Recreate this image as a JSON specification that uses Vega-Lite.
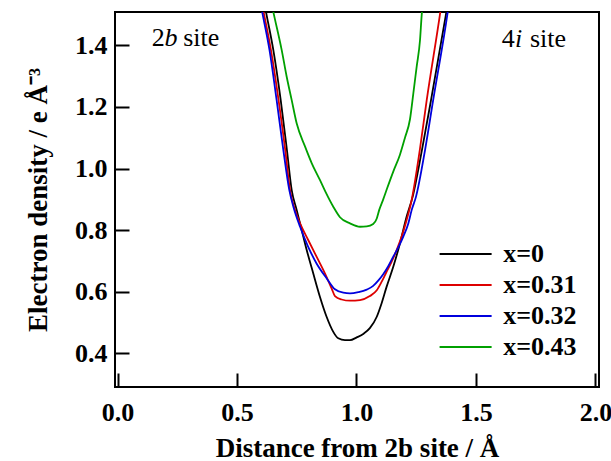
{
  "$schema": "https://vega.github.io/schema/vega-lite/v6.json",
  "width": 484,
  "height": 375,
  "autosize": {"type": "none"},
  "padding": {"left": 115, "top": 12, "right": 12, "bottom": 74},
  "background": "white",
  "config": {
    "view": {"stroke": "black", "strokeWidth": 2},
    "font": "Times New Roman, Liberation Serif, serif",
    "axis": {
      "domain": false,
      "grid": false,
      "tickColor": "black",
      "tickWidth": 2,
      "tickSize": -14,
      "labelFont": "Times New Roman, Liberation Serif, serif",
      "labelFontWeight": "bold",
      "labelFontSize": 26,
      "labelColor": "black",
      "titleFont": "Times New Roman, Liberation Serif, serif",
      "titleFontWeight": "bold",
      "titleFontSize": 27,
      "titleColor": "black"
    },
    "legend": {
      "labelFont": "Times New Roman, Liberation Serif, serif",
      "labelFontWeight": "bold",
      "labelFontSize": 26,
      "labelColor": "black"
    }
  },
  "datasets": {
    "curves": [
      {"s": "x=0", "d": 0.616, "rho": 1.53},
      {"s": "x=0", "d": 0.624, "rho": 1.498},
      {"s": "x=0", "d": 0.652, "rho": 1.385},
      {"s": "x=0", "d": 0.683, "rho": 1.222},
      {"s": "x=0", "d": 0.709, "rho": 1.060},
      {"s": "x=0", "d": 0.729, "rho": 0.930},
      {"s": "x=0", "d": 0.750, "rho": 0.865},
      {"s": "x=0", "d": 0.771, "rho": 0.800},
      {"s": "x=0", "d": 0.792, "rho": 0.735},
      {"s": "x=0", "d": 0.819, "rho": 0.660},
      {"s": "x=0", "d": 0.847, "rho": 0.584},
      {"s": "x=0", "d": 0.875, "rho": 0.519},
      {"s": "x=0", "d": 0.903, "rho": 0.470},
      {"s": "x=0", "d": 0.924, "rho": 0.449},
      {"s": "x=0", "d": 0.952, "rho": 0.443},
      {"s": "x=0", "d": 0.973, "rho": 0.443},
      {"s": "x=0", "d": 1.001, "rho": 0.452},
      {"s": "x=0", "d": 1.030, "rho": 0.464},
      {"s": "x=0", "d": 1.056, "rho": 0.482},
      {"s": "x=0", "d": 1.085, "rho": 0.519},
      {"s": "x=0", "d": 1.105, "rho": 0.562},
      {"s": "x=0", "d": 1.126, "rho": 0.616},
      {"s": "x=0", "d": 1.154, "rho": 0.681},
      {"s": "x=0", "d": 1.182, "rho": 0.757},
      {"s": "x=0", "d": 1.210, "rho": 0.844},
      {"s": "x=0", "d": 1.235, "rho": 0.908},
      {"s": "x=0", "d": 1.274, "rho": 1.060},
      {"s": "x=0", "d": 1.312, "rho": 1.222},
      {"s": "x=0", "d": 1.374, "rho": 1.498},
      {"s": "x=0", "d": 1.381, "rho": 1.53},
      {"s": "x=0.31", "d": 0.606, "rho": 1.53},
      {"s": "x=0.31", "d": 0.614, "rho": 1.498},
      {"s": "x=0.31", "d": 0.642, "rho": 1.385},
      {"s": "x=0.31", "d": 0.674, "rho": 1.222},
      {"s": "x=0.31", "d": 0.702, "rho": 1.060},
      {"s": "x=0.31", "d": 0.722, "rho": 0.930},
      {"s": "x=0.31", "d": 0.743, "rho": 0.865},
      {"s": "x=0.31", "d": 0.764, "rho": 0.822},
      {"s": "x=0.31", "d": 0.798, "rho": 0.768},
      {"s": "x=0.31", "d": 0.833, "rho": 0.714},
      {"s": "x=0.31", "d": 0.868, "rho": 0.660},
      {"s": "x=0.31", "d": 0.896, "rho": 0.611},
      {"s": "x=0.31", "d": 0.910, "rho": 0.586},
      {"s": "x=0.31", "d": 0.938, "rho": 0.575},
      {"s": "x=0.31", "d": 0.973, "rho": 0.571},
      {"s": "x=0.31", "d": 1.015, "rho": 0.573},
      {"s": "x=0.31", "d": 1.056, "rho": 0.586},
      {"s": "x=0.31", "d": 1.085, "rho": 0.605},
      {"s": "x=0.31", "d": 1.105, "rho": 0.632},
      {"s": "x=0.31", "d": 1.126, "rho": 0.665},
      {"s": "x=0.31", "d": 1.147, "rho": 0.697},
      {"s": "x=0.31", "d": 1.168, "rho": 0.735},
      {"s": "x=0.31", "d": 1.189, "rho": 0.779},
      {"s": "x=0.31", "d": 1.210, "rho": 0.833},
      {"s": "x=0.31", "d": 1.231, "rho": 0.898},
      {"s": "x=0.31", "d": 1.265, "rho": 1.060},
      {"s": "x=0.31", "d": 1.294, "rho": 1.222},
      {"s": "x=0.31", "d": 1.349, "rho": 1.498},
      {"s": "x=0.31", "d": 1.355, "rho": 1.53},
      {"s": "x=0.32", "d": 0.600, "rho": 1.53},
      {"s": "x=0.32", "d": 0.608, "rho": 1.498},
      {"s": "x=0.32", "d": 0.636, "rho": 1.385},
      {"s": "x=0.32", "d": 0.666, "rho": 1.222},
      {"s": "x=0.32", "d": 0.694, "rho": 1.060},
      {"s": "x=0.32", "d": 0.719, "rho": 0.930},
      {"s": "x=0.32", "d": 0.736, "rho": 0.876},
      {"s": "x=0.32", "d": 0.764, "rho": 0.811},
      {"s": "x=0.32", "d": 0.798, "rho": 0.746},
      {"s": "x=0.32", "d": 0.833, "rho": 0.692},
      {"s": "x=0.32", "d": 0.875, "rho": 0.644},
      {"s": "x=0.32", "d": 0.910, "rho": 0.608},
      {"s": "x=0.32", "d": 0.945, "rho": 0.597},
      {"s": "x=0.32", "d": 0.973, "rho": 0.595},
      {"s": "x=0.32", "d": 1.008, "rho": 0.599},
      {"s": "x=0.32", "d": 1.043, "rho": 0.607},
      {"s": "x=0.32", "d": 1.070, "rho": 0.619},
      {"s": "x=0.32", "d": 1.091, "rho": 0.636},
      {"s": "x=0.32", "d": 1.112, "rho": 0.657},
      {"s": "x=0.32", "d": 1.133, "rho": 0.683},
      {"s": "x=0.32", "d": 1.154, "rho": 0.714},
      {"s": "x=0.32", "d": 1.175, "rho": 0.744},
      {"s": "x=0.32", "d": 1.196, "rho": 0.779},
      {"s": "x=0.32", "d": 1.217, "rho": 0.822},
      {"s": "x=0.32", "d": 1.231, "rho": 0.865},
      {"s": "x=0.32", "d": 1.249, "rho": 0.908},
      {"s": "x=0.32", "d": 1.287, "rho": 1.060},
      {"s": "x=0.32", "d": 1.321, "rho": 1.222},
      {"s": "x=0.32", "d": 1.380, "rho": 1.498},
      {"s": "x=0.32", "d": 1.386, "rho": 1.53},
      {"s": "x=0.43", "d": 0.646, "rho": 1.53},
      {"s": "x=0.43", "d": 0.655, "rho": 1.498},
      {"s": "x=0.43", "d": 0.687, "rho": 1.385},
      {"s": "x=0.43", "d": 0.708, "rho": 1.298},
      {"s": "x=0.43", "d": 0.729, "rho": 1.222},
      {"s": "x=0.43", "d": 0.750, "rho": 1.146},
      {"s": "x=0.43", "d": 0.785, "rho": 1.071},
      {"s": "x=0.43", "d": 0.813, "rho": 1.017},
      {"s": "x=0.43", "d": 0.847, "rho": 0.963},
      {"s": "x=0.43", "d": 0.870, "rho": 0.925},
      {"s": "x=0.43", "d": 0.903, "rho": 0.876},
      {"s": "x=0.43", "d": 0.931, "rho": 0.842},
      {"s": "x=0.43", "d": 0.973, "rho": 0.822},
      {"s": "x=0.43", "d": 1.015, "rho": 0.811},
      {"s": "x=0.43", "d": 1.043, "rho": 0.812},
      {"s": "x=0.43", "d": 1.070, "rho": 0.820},
      {"s": "x=0.43", "d": 1.085, "rho": 0.838},
      {"s": "x=0.43", "d": 1.095, "rho": 0.865},
      {"s": "x=0.43", "d": 1.112, "rho": 0.900},
      {"s": "x=0.43", "d": 1.128, "rho": 0.935},
      {"s": "x=0.43", "d": 1.154, "rho": 0.990},
      {"s": "x=0.43", "d": 1.182, "rho": 1.045},
      {"s": "x=0.43", "d": 1.203, "rho": 1.100},
      {"s": "x=0.43", "d": 1.224, "rho": 1.160},
      {"s": "x=0.43", "d": 1.238, "rho": 1.244},
      {"s": "x=0.43", "d": 1.252, "rho": 1.331},
      {"s": "x=0.43", "d": 1.266, "rho": 1.417},
      {"s": "x=0.43", "d": 1.273, "rho": 1.498},
      {"s": "x=0.43", "d": 1.277, "rho": 1.53}
    ],
    "uprightText": [
      {"t": "2", "d": 0.143, "rho": 1.399},
      {"t": "site", "d": 0.275, "rho": 1.399},
      {"t": "4", "d": 1.608, "rho": 1.396},
      {"t": "site", "d": 1.726, "rho": 1.396}
    ],
    "italicText": [
      {"t": "b", "d": 0.197, "rho": 1.399},
      {"t": "i", "d": 1.663, "rho": 1.396}
    ]
  },
  "layer": [
    {
      "data": {"name": "curves"},
      "mark": {"type": "line", "strokeWidth": 1.8, "clip": true, "interpolate": "monotone"},
      "encoding": {
        "x": {
          "field": "d",
          "type": "quantitative",
          "scale": {"domain": [-0.0105, 2.015], "nice": false, "zero": false},
          "axis": {
            "values": [0, 0.5, 1.0, 1.5, 2.0],
            "format": ".1f",
            "labelPadding": 26,
            "title": "Distance from 2b site / Å",
            "titlePadding": 10
          }
        },
        "y": {
          "field": "rho",
          "type": "quantitative",
          "scale": {"domain": [0.291, 1.508], "nice": false, "zero": false},
          "axis": {
            "values": [0.4, 0.6, 0.8, 1.0, 1.2, 1.4],
            "format": ".1f",
            "labelPadding": 22,
            "title": "Electron density / e Å⁻³",
            "titlePadding": 22
          }
        },
        "color": {
          "field": "s",
          "type": "nominal",
          "scale": {
            "domain": ["x=0", "x=0.31", "x=0.32", "x=0.43"],
            "range": ["#000000", "#dd0000", "#0000dd", "#00a000"]
          },
          "legend": {
            "title": null,
            "orient": "none",
            "legendX": 337.6,
            "legendY": 229,
            "symbolType": "M-2.5,0H2.5",
            "symbolSize": 433,
            "symbolStrokeWidth": 2,
            "rowPadding": 5,
            "labelOffset": 24.6
          }
        }
      }
    },
    {
      "data": {"name": "uprightText"},
      "mark": {"type": "text", "align": "left", "baseline": "alphabetic", "font": "Times New Roman, Liberation Serif, serif", "fontSize": 26, "color": "black"},
      "encoding": {
        "x": {"field": "d", "type": "quantitative"},
        "y": {"field": "rho", "type": "quantitative"},
        "text": {"field": "t"}
      }
    },
    {
      "data": {"name": "italicText"},
      "mark": {"type": "text", "align": "left", "baseline": "alphabetic", "font": "Times New Roman, Liberation Serif, serif", "fontSize": 26, "fontStyle": "italic", "color": "black"},
      "encoding": {
        "x": {"field": "d", "type": "quantitative"},
        "y": {"field": "rho", "type": "quantitative"},
        "text": {"field": "t"}
      }
    }
  ]
}
